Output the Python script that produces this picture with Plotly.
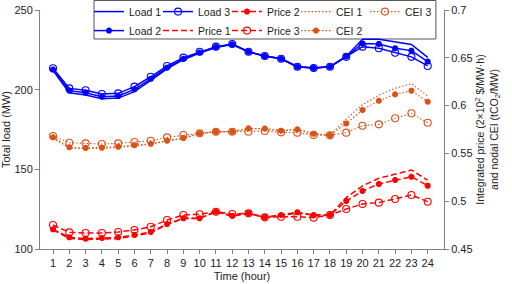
import plotly.graph_objects as go

hours = list(range(1, 25))
hour_labels = [str(h) for h in hours]

load1 = [212.0, 198.1, 196.7, 194.3, 194.7, 198.8, 205.8, 213.0, 218.8, 223.0, 226.5, 228.3,
         223.8, 221.1, 219.4, 214.4, 213.6, 214.4, 221.0, 231.6, 231.6, 230.1, 228.4, 220.3]
load2 = [212.6, 199.4, 198.1, 195.6, 196.0, 200.2, 206.8, 213.8, 219.4, 223.4, 226.8, 228.5,
         223.8, 221.1, 219.4, 214.4, 213.6, 214.4, 220.8, 229.0, 228.7, 226.0, 224.5, 217.6]
load3 = [213.4, 200.8, 199.6, 197.3, 197.7, 201.9, 208.1, 214.9, 220.1, 223.8, 227.0, 228.7,
         223.8, 221.1, 219.4, 214.4, 213.6, 214.4, 220.6, 227.0, 226.0, 223.2, 220.6, 214.9]

price1 = [0.470, 0.461, 0.4598, 0.4605, 0.461, 0.4635, 0.467, 0.4755, 0.482, 0.482, 0.489, 0.4845,
          0.4873, 0.4831, 0.4856, 0.4875, 0.4856, 0.4856, 0.5037, 0.516, 0.524, 0.528, 0.5327, 0.522]
price2 = [0.4706, 0.4622, 0.4608, 0.4615, 0.4622, 0.4647, 0.4678, 0.4761, 0.4821, 0.4821, 0.4890, 0.4845,
          0.4873, 0.4831, 0.4856, 0.4884, 0.4856, 0.4856, 0.5002, 0.5107, 0.518, 0.5222, 0.5256, 0.5162]
price3 = [0.4751, 0.4674, 0.4667, 0.4667, 0.4678, 0.4699, 0.4733, 0.4803, 0.4856, 0.4863, 0.4890, 0.4866,
          0.4873, 0.4831, 0.4838, 0.4838, 0.4828, 0.4856, 0.4918, 0.4971, 0.4985, 0.5023, 0.5065, 0.4995]

cei1 = [0.566, 0.5555, 0.555, 0.5552, 0.5562, 0.5578, 0.5595, 0.5628, 0.5655, 0.5705, 0.5725, 0.5727,
        0.576, 0.5758, 0.5736, 0.575, 0.5705, 0.5689, 0.586, 0.601, 0.611, 0.618, 0.623, 0.610]
cei2 = [0.5668, 0.5564, 0.5557, 0.556, 0.557, 0.5585, 0.560, 0.5633, 0.566, 0.571, 0.5727, 0.5727,
        0.5762, 0.576, 0.5738, 0.5752, 0.5706, 0.5689, 0.5814, 0.5954, 0.6051, 0.6118, 0.6156, 0.604]
cei3 = [0.5682, 0.5612, 0.5605, 0.5598, 0.5605, 0.562, 0.5633, 0.5668, 0.5692, 0.571, 0.5727, 0.5727,
        0.5727, 0.5734, 0.572, 0.5717, 0.5693, 0.5689, 0.5717, 0.579, 0.5804, 0.5867, 0.592, 0.582]

BLUE = "#0000FF"
RED = "#FF0000"
ORANGE = "#D95319"
FONT = "Liberation Sans, Arial, sans-serif"

fig = go.Figure()

def add(name, y, color, dash, width, symbol, size, axis, rank, mlw=1.1):
    mode = "lines" if symbol is None else "lines+markers"
    marker = None
    if symbol is not None:
        marker = dict(symbol=symbol, size=size, color=color,
                      line=dict(color=color, width=mlw))
    fig.add_trace(go.Scatter(x=hours, y=y, name=name, mode=mode,
                             line=dict(color=color, dash=dash, width=width),
                             marker=marker, yaxis=axis, legendrank=rank))

DOT = "1.5px,2px"
DASH = "6px,3px"
add("CEI 1", cei1, ORANGE, DOT, 1.1, None, 0, "y2", 4)
add("CEI 2", cei2, ORANGE, DOT, 1.1, "asterisk-open", 5, "y2", 9, 2)
add("CEI 3", cei3, ORANGE, DOT, 1.1, "circle-open", 7, "y2", 5)
add("Price 1", price1, RED, DASH, 1.5, None, 0, "y2", 7)
add("Price 2", price2, RED, DASH, 1.5, "asterisk-open", 5, "y2", 3, 2)
add("Price 3", price3, RED, DASH, 1.5, "circle-open", 7, "y2", 8)
add("Load 1", load1, BLUE, "solid", 1.5, None, 0, "y", 1)
add("Load 2", load2, BLUE, "solid", 1.5, "asterisk-open", 5, "y", 6, 2)
add("Load 3", load3, BLUE, "solid", 1.5, "circle-open", 7, "y", 2)

axis_common = dict(showgrid=False, zeroline=False, showline=True, linecolor="#808080",
                   linewidth=1, ticks="outside", ticklen=4, tickcolor="#808080",
                   tickfont=dict(family=FONT, size=11, color="#222222"))

# legend frame (decoration only), in paper coordinates
fig.add_shape(type="rect", xref="paper", yref="paper",
              x0=0.1337, x1=0.980, y0=0.8787, y1=1.0397,
              line=dict(color="#555555", width=1), fillcolor="white", layer="below")

fig.update_layout(
    width=512, height=284,
    margin=dict(l=40, r=68, t=10, b=35, autoexpand=False),
    paper_bgcolor="white", plot_bgcolor="rgba(0,0,0,0)",
    font=dict(family=FONT, size=11, color="#222222"),
    xaxis=dict(range=[0.2, 25], tickmode="array", tickvals=hours, ticktext=hour_labels,
               title=dict(text="Time (hour)", standoff=4, font=dict(size=11)),
               automargin=False, **axis_common),
    yaxis=dict(range=[100, 250], tickmode="array", tickvals=[100, 150, 200, 250],
               title=dict(text="Total load (MW)", standoff=9, font=dict(size=11)),
               automargin=False, **axis_common),
    yaxis2=dict(range=[0.45, 0.7], overlaying="y", side="right", tickmode="array",
                tickvals=[0.45, 0.5, 0.55, 0.6, 0.65, 0.7],
                ticktext=["0.45", "0.5", "0.55", "0.6", "0.65", "0.7"],
                title=dict(text="Integrated price (2×10<sup>2</sup> $/MW·h)<br>and nodal CEI (tCO<sub>2</sub>/MW)",
                           standoff=2, font=dict(size=10.5)),
                automargin=False, **axis_common),
    legend=dict(orientation="h", x=0.1213, y=1.054, xanchor="left", yanchor="top",
                bgcolor="rgba(0,0,0,0)", borderwidth=0,
                entrywidth=24, entrywidthmode="pixels", itemwidth=30,
                font=dict(family=FONT, size=10.5, color="#222222"),
                tracegroupgap=0),
    showlegend=True,
)

fig.write_html("out.html", config={"displayModeBar": False},
               post_script="document.body.style.margin='0';")
